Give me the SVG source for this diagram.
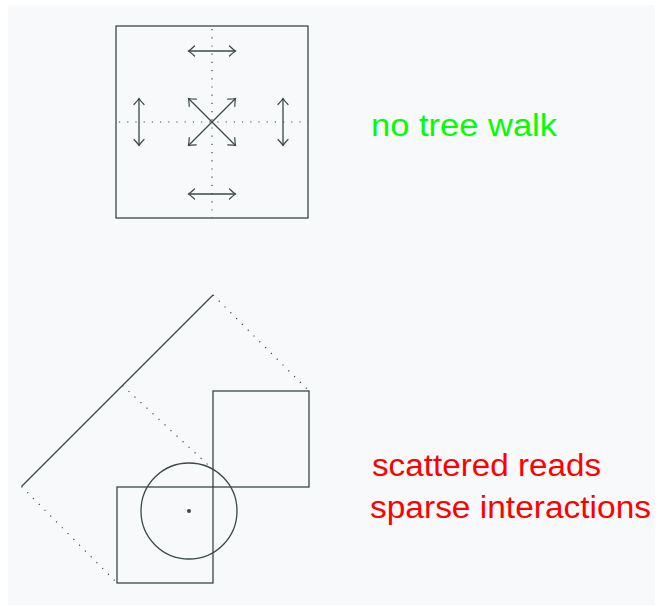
<svg xmlns="http://www.w3.org/2000/svg" width="661" height="606" viewBox="0 0 661 606">
<style>
.s{fill:none;stroke:#3a4848;stroke-width:1.3}
.d{fill:none;stroke:#3a4848;stroke-width:1.2;stroke-dasharray:1.2 7;stroke-linecap:butt}
.a{fill:none;stroke:#3a4848;stroke-width:1.3;marker-start:url(#h);marker-end:url(#h)}
.t{font-family:"Liberation Sans","DejaVu Sans",sans-serif;font-size:31px}
</style>
<defs>
<marker id="h" markerUnits="userSpaceOnUse" markerWidth="14" markerHeight="14" viewBox="-8 -7 10 14" refX="0" refY="0" orient="auto-start-reverse">
<path d="M -6 -5 Q -2 -1.2 0 0 Q -2 1.2 -6 5" fill="none" stroke="#3a4848" stroke-width="1.2" stroke-linecap="round"/>
</marker>
</defs>
<rect x="8" y="5" width="647" height="600" fill="#f8f9fa"/>
<g id="top-cell">
<rect class="s" x="116" y="26" width="192" height="192"/>
<line class="d" x1="212" y1="29" x2="212" y2="218"/>
<line class="d" x1="119" y1="122" x2="308" y2="122"/>
</g>
<g id="connectors">
<line class="a" x1="188.5" y1="51" x2="235.5" y2="51"/>
<line class="a" x1="188.5" y1="194" x2="235.5" y2="194"/>
<line class="a" x1="139" y1="98.5" x2="139" y2="145.5"/>
<line class="a" x1="283" y1="98.5" x2="283" y2="145.5"/>
<line class="a" x1="188.5" y1="98.5" x2="235.5" y2="145.5"/>
<line class="a" x1="235.5" y1="98.5" x2="188.5" y2="145.5"/>
</g>
<g id="label-top">
<text class="t" x="371" y="135.5" fill="#00ff00" textLength="186" lengthAdjust="spacingAndGlyphs">no tree walk</text>
</g>
<g id="bottom">
<line class="s" x1="21.5" y1="486.5" x2="213" y2="295"/>
<line class="d" x1="213" y1="295" x2="309" y2="391"/>
<line class="d" x1="21.5" y1="486.5" x2="117" y2="583"/>
<line class="d" x1="122.5" y1="385.5" x2="213" y2="469.5"/>
<rect class="s" x="213" y="391" width="96" height="96"/>
<rect class="s" x="117" y="487" width="96" height="96"/>
<circle class="s" cx="189" cy="511" r="48"/>
<circle cx="189" cy="511" r="2" fill="#3a4848"/>
</g>
<g id="label-bottom">
<text class="t" x="372" y="476" fill="#ff0000" textLength="229" lengthAdjust="spacingAndGlyphs">scattered reads</text>
<text class="t" x="370" y="518" fill="#ff0000" textLength="281" lengthAdjust="spacingAndGlyphs">sparse interactions</text>
</g>
</svg>
